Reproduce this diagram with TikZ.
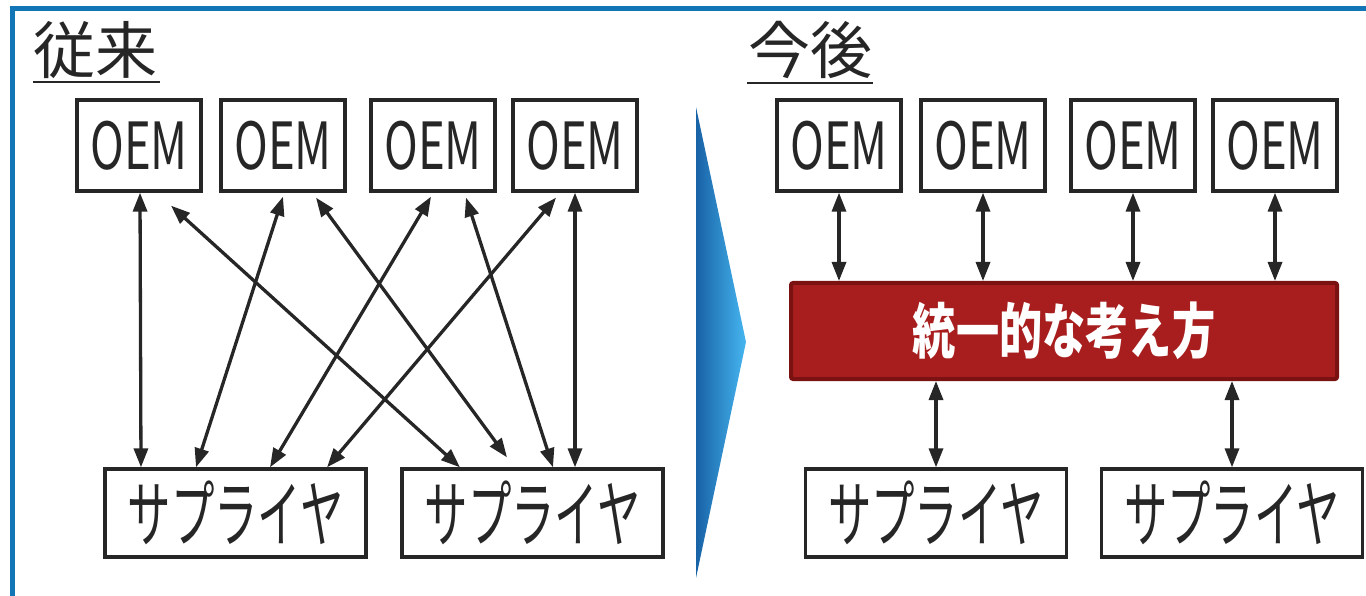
\documentclass[tikz,border=0pt]{standalone}
\usepackage{fontspec}
\setmainfont{Noto Sans CJK JP}
\usetikzlibrary{arrows.meta,calc}
\definecolor{frameblue}{RGB}{18,118,182}
\definecolor{ink}{RGB}{38,38,38}
\definecolor{barred}{RGB}{168,30,30}
\definecolor{barline}{RGB}{122,18,18}
\definecolor{chevdark}{RGB}{24,98,166}
\definecolor{chevmid}{RGB}{34,128,206}
\definecolor{chevlight}{RGB}{70,182,240}
\tikzset{
  oembox/.style={draw=ink, line width=3.3pt, fill=white, minimum width=124pt, minimum height=91pt, inner sep=0pt, text=ink, font=\fontsize{65pt}{70pt}\selectfont},
  supbox/.style={draw=ink, line width=3.3pt, fill=white, minimum width=261pt, minimum height=88pt, inner sep=0pt, text=ink, font=\fontsize{73pt}{78pt}\selectfont},
  heading/.style={inner sep=0pt, text=ink, font=\fontsize{62pt}{66pt}\selectfont},
  link/.style={draw=ink, line width=3.3pt, {Triangle[length=19pt,width=14pt]}-{Triangle[length=19pt,width=14pt]}},
  unibar/.style={draw=barline, line width=4pt, fill=barred, rounded corners=2pt, minimum width=546pt, minimum height=96pt, inner sep=0pt, text=white, font=\fontsize{60pt}{64pt}\selectfont\bfseries}
}
\newcommand{\oemtxt}{\raisebox{-3pt}{\scalebox{0.70}[1]{OEM}}}
\newcommand{\suptxt}{\raisebox{4pt}{\scalebox{0.595}[1]{サプライヤ}}}
\begin{document}
\begin{tikzpicture}[x=1pt,y=-1pt]
\useasboundingbox (0,0) rectangle (1366,596);
% frame
\draw[frameblue, line width=5pt] (12.5,600) -- (12.5,9) -- (1370,9);
% headings
\node[heading] (h1) at (96,50) {従来};
\draw[ink, line width=2.8pt] (33,82) -- (160,82);
\node[heading] (h2) at (810,50) {今後};
\draw[ink, line width=2.8pt] (747,83) -- (873,83);
% chevron
\shade[left color=chevdark, middle color=chevmid, right color=chevlight] (696,107) -- (746,342) -- (696,578) -- cycle;
% left panel
\node[oembox] (o1) at (139,145.5) {\oemtxt};
\node[oembox] (o2) at (283,145.5) {\oemtxt};
\node[oembox] (o3) at (433,145.5) {\oemtxt};
\node[oembox] (o4) at (575,145.5) {\oemtxt};
\node[supbox] (s1) at (235.5,513) {\suptxt};
\node[supbox] (s2) at (532.5,513) {\suptxt};
\draw[link] ($(o1.south)+(1,0)$) -- ($(s1.north)+(-94.5,0)$);
\draw[link] ($(o1.south)+(32,13)$) -- ($(s2.north)+(-72.5,0)$);
\draw[link] ($(o2.south)+(0,4)$) -- ($(s1.north)+(-39.5,0)$);
\draw[link] ($(o2.south)+(33,5)$) -- ($(s2.north)+(-25.5,-10)$);
\draw[link] ($(o3.south)+(-2,4)$) -- ($(s1.north)+(34.5,0)$);
\draw[link] ($(o3.south)+(33,5)$) -- ($(s2.north)+(20.5,0)$);
\draw[link] ($(o4.south)+(-19,5)$) -- ($(s1.north)+(91.5,0)$);
\draw[link] (o4.south) -- ($(s2.north)+(42.5,0)$);
% right panel
\node[oembox] (r1) at (839,145.5) {\oemtxt};
\node[oembox] (r2) at (983,145.5) {\oemtxt};
\node[oembox] (r3) at (1133,145.5) {\oemtxt};
\node[oembox] (r4) at (1275,145.5) {\oemtxt};
\node[unibar] (bar) at (1064,331) {\scalebox{0.72}[1]{統一的な考え方}};
\node[supbox] (t1) at (936,513) {\suptxt};
\node[supbox] (t2) at (1232,513) {\suptxt};
\foreach \r in {r1,r2,r3,r4}{
  \draw[link] (\r.south) -- (\r.south |- bar.north);
}
\foreach \t in {t1,t2}{
  \draw[link] (\t.north |- bar.south) -- (\t.north);
}
\end{tikzpicture}
\end{document}
